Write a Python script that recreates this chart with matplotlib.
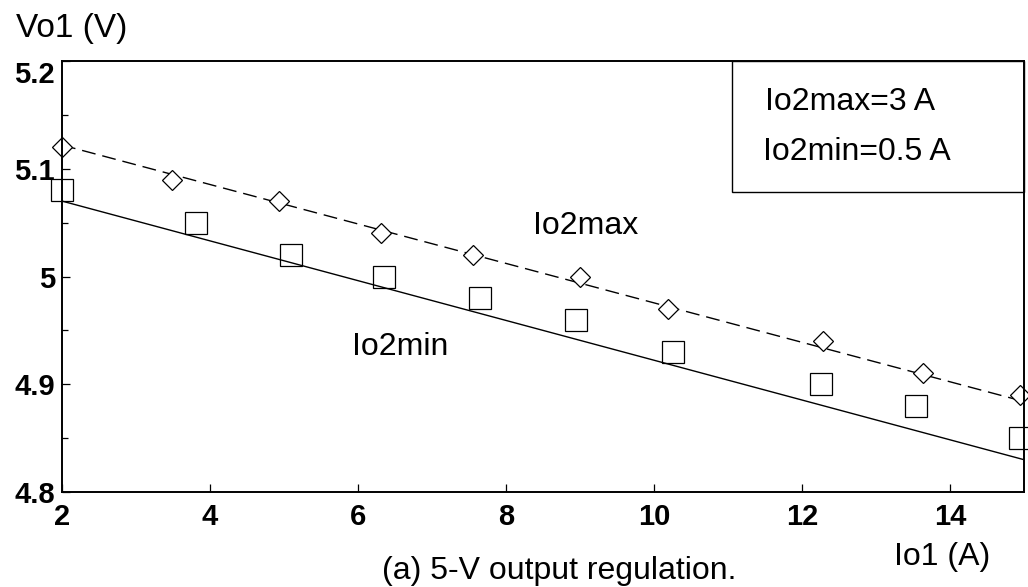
import matplotlib.pyplot as plt
from matplotlib.ticker import MultipleLocator

plt.rcParams['font.family'] = ['Liberation Sans', 'DejaVu Sans']

# Data
# Io1 load current (A)
io1_max = [2.0, 3.49, 4.93, 6.31, 7.55, 9.0, 10.19, 12.28, 13.64, 14.95]
vo1_max = [5.120, 5.090, 5.070, 5.040, 5.020, 5.000, 4.970, 4.940, 4.910, 4.890]
io1_min = [2.0, 3.81, 5.09, 6.35, 7.65, 8.95, 10.26, 12.26, 13.54, 14.95]
vo1_min = [5.080, 5.050, 5.020, 5.000, 4.980, 4.960, 4.930, 4.900, 4.880, 4.850]
# fitted lines
fit_x = [2, 15]
fit_max = [5.122, 4.884]
fit_min = [5.070, 4.830]

x_ticks = [2, 4, 6, 8, 10, 12, 14]
y_ticks = [4.8, 4.9, 5.0, 5.1, 5.2]
y_tick_labels = ['4.8', '4.9', '5', '5.1', '5.2']

TXT = 23

fig = plt.figure(figsize=(10.28, 5.87), dpi=100)
ax = fig.add_axes([0.0603, 0.1618, 0.9358, 0.7343])

ax.plot(fit_x, fit_max, color='black', lw=1.0, dashes=(10, 5))
ax.plot(fit_x, fit_min, color='black', lw=1.0)
ax.plot(io1_max, vo1_max, linestyle='none', marker='D', ms=10, mfc='white',
        mec='black', mew=0.9, clip_on=False)
ax.plot(io1_min, vo1_min, linestyle='none', marker='s', ms=15.5, mfc='none',
        mec='black', mew=0.9, clip_on=False)

ax.set_xlim(2, 15)
ax.set_ylim(4.8, 5.2)
ax.set_xticks(x_ticks)
ax.set_yticks(y_ticks)
ax.set_yticklabels(y_tick_labels)
ax.yaxis.set_minor_locator(MultipleLocator(0.05))
ax.tick_params(axis='both', which='major', direction='in', length=6, width=0.9)
ax.tick_params(axis='both', which='minor', direction='in', length=4, width=0.9)
ax.tick_params(axis='x', pad=8)
ax.tick_params(axis='y', pad=5)
for lab in ax.get_xticklabels() + ax.get_yticklabels():
    lab.set_fontsize(21)
    lab.set_fontweight('bold')
ax.get_yticklabels()[-1].set_va('top')

for s in ax.spines.values():
    s.set_linewidth(1.4)

# box with load conditions
ax.add_artist(plt.Rectangle((0.6965, 0.6949), 0.3035, 0.3051, transform=ax.transAxes,
                            fill=False, lw=1.0, color='black', clip_on=False))
fig.text(765 / 1028, 1 - 102 / 587, 'Io2max=3 A', fontsize=TXT, va='center', ha='left')
fig.text(763 / 1028, 1 - 152 / 587, 'Io2min=0.5 A', fontsize=TXT, va='center', ha='left')

ax.text(8.36, 5.047, 'Io2max', fontsize=TXT, va='center', ha='left')
ax.text(5.92, 4.935, 'Io2min', fontsize=TXT, va='center', ha='left')

fig.text(72 / 1028, 1 - 29 / 587, 'Vo1 (V)', fontsize=24, ha='center', va='center')
fig.text(942 / 1028, 1 - 557 / 587, 'Io1 (A)', fontsize=TXT, ha='center', va='center')
fig.text(559 / 1028, 1 - 571 / 587, '(a) 5-V output regulation.', fontsize=TXT,
         ha='center', va='center')

fig.savefig('out.png', dpi=100)
